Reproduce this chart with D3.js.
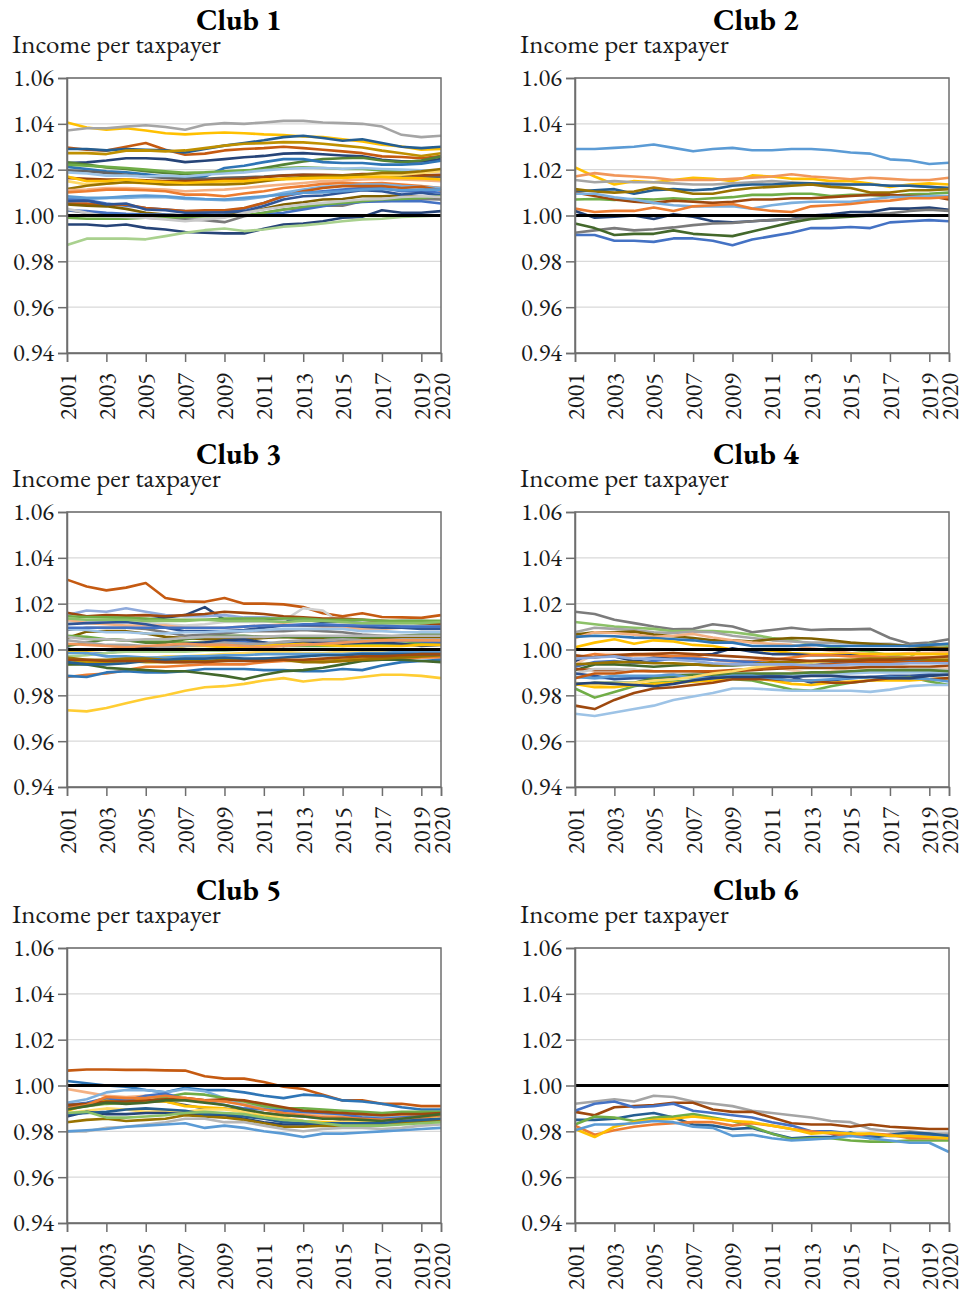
<!DOCTYPE html>
<html>
<head>
<meta charset="utf-8">
<script src="https://cdn.jsdelivr.net/npm/d3@7"></script>
<style>
  body { margin: 0; background: #fff; }
  text { font-family: "EB Garamond", Garamond, "Liberation Serif", "Times New Roman", serif; }
</style>
</head>
<body>
<div id="holder"></div>
<script>
// Data
const years = [2001, 2002, 2003, 2004, 2005, 2006, 2007, 2008, 2009, 2010,
               2011, 2012, 2013, 2014, 2015, 2016, 2017, 2018, 2019, 2020];
const xTicks = [2001, 2003, 2005, 2007, 2009, 2011, 2013, 2015, 2017, 2019, 2020];
const yTicks = [0.94, 0.96, 0.98, 1.00, 1.02, 1.04, 1.06];
const clubNames = ["Club 1", "Club 2", "Club 3", "Club 4", "Club 5", "Club 6"];
const subtitle = "Income per taxpayer";

const club1 = [
  [1.0406,1.0384,1.0374,1.0381,1.0371,1.0359,1.0354,1.0359,1.0362,1.0359,1.0354,1.0351,1.0345,1.0342,1.0333,1.0323,1.0309,1.0301,1.0287,1.029],
  [1.0371,1.0381,1.0381,1.0388,1.0394,1.0386,1.0374,1.0396,1.0403,1.04,1.0406,1.0413,1.0413,1.0406,1.0403,1.04,1.0388,1.0352,1.0342,1.0348],
  [1.0297,1.0287,1.0283,1.03,1.0316,1.0287,1.0265,1.027,1.0284,1.029,1.0294,1.03,1.0294,1.0287,1.028,1.0272,1.0258,1.0255,1.025,1.026],
  [1.029,1.029,1.0284,1.029,1.0287,1.0284,1.0275,1.029,1.0305,1.0316,1.0328,1.0342,1.0348,1.0338,1.0326,1.0333,1.0316,1.03,1.0294,1.03],
  [1.0272,1.0272,1.0268,1.0283,1.0284,1.028,1.0284,1.0294,1.0305,1.0313,1.0316,1.032,1.0319,1.0313,1.0305,1.0297,1.0283,1.0272,1.026,1.0272],
  [1.0229,1.0232,1.024,1.025,1.025,1.0246,1.0233,1.0239,1.0246,1.0254,1.026,1.027,1.0272,1.0267,1.0262,1.0258,1.0243,1.0236,1.0236,1.0246],
  [1.0232,1.0222,1.021,1.0203,1.0193,1.0186,1.0181,1.0186,1.0188,1.0193,1.0207,1.0222,1.0236,1.0246,1.025,1.0252,1.024,1.0233,1.024,1.0258],
  [1.0212,1.0203,1.0193,1.0188,1.018,1.017,1.0164,1.017,1.0207,1.0217,1.0233,1.0246,1.0246,1.0233,1.0229,1.0229,1.0222,1.0222,1.0226,1.0239],
  [1.0222,1.0217,1.0212,1.0207,1.02,1.0193,1.0186,1.0188,1.0193,1.0197,1.02,1.0207,1.021,1.0207,1.0203,1.0203,1.0197,1.0193,1.0188,1.02],
  [1.0197,1.0193,1.0186,1.0178,1.017,1.0164,1.016,1.016,1.0164,1.0167,1.017,1.0175,1.0178,1.0175,1.0174,1.0178,1.0175,1.0174,1.017,1.0168],
  [1.0188,1.0183,1.0174,1.0174,1.017,1.0174,1.017,1.0178,1.0183,1.0188,1.0197,1.0203,1.0207,1.0207,1.0204,1.0207,1.0203,1.02,1.0197,1.0193],
  [1.0164,1.016,1.0157,1.0157,1.0154,1.015,1.015,1.0152,1.0157,1.016,1.0167,1.0174,1.0178,1.0178,1.0175,1.0181,1.0181,1.0178,1.0175,1.0178],
  [1.015,1.0135,1.0139,1.0145,1.014,1.0135,1.0139,1.0142,1.0142,1.0146,1.0152,1.0157,1.016,1.0164,1.0168,1.0174,1.0178,1.0178,1.0186,1.0193],
  [1.0116,1.013,1.0139,1.0145,1.0142,1.0135,1.0135,1.0135,1.0135,1.0139,1.015,1.016,1.0168,1.017,1.0174,1.0178,1.0186,1.0186,1.0193,1.0203],
  [1.011,1.0113,1.012,1.012,1.0116,1.0113,1.0106,1.011,1.0113,1.012,1.0128,1.0135,1.0142,1.015,1.0152,1.0157,1.016,1.0157,1.0154,1.015],
  [1.0101,1.0106,1.0113,1.0113,1.011,1.0106,1.0091,1.0091,1.0084,1.0096,1.0106,1.012,1.0128,1.0138,1.0142,1.0139,1.0142,1.0135,1.0128,1.012],
  [1.0077,1.0072,1.0077,1.0077,1.0081,1.008,1.0072,1.007,1.0067,1.007,1.0081,1.0099,1.0113,1.0125,1.013,1.0135,1.0135,1.0128,1.0125,1.012],
  [1.007,1.0067,1.0052,1.0043,1.0033,1.0026,1.0019,1.0014,1.0019,1.0029,1.0055,1.0084,1.0099,1.0106,1.0113,1.012,1.012,1.0106,1.0106,1.0099],
  [1.0052,1.0052,1.0043,1.0048,1.0033,1.0026,1.0019,1.0023,1.0023,1.0033,1.0055,1.0084,1.0106,1.012,1.0128,1.0128,1.0128,1.012,1.0125,1.011],
  [1.0048,1.0043,1.004,1.0029,1.0012,1.0004,1.0,1.0,1.0004,1.0012,1.0029,1.0048,1.0058,1.007,1.0072,1.0084,1.0084,1.0087,1.0081,1.0072],
  [1.0023,1.0012,1.0004,0.9997,0.999,0.9986,0.9983,0.998,0.9971,0.9997,1.0012,1.0026,1.0033,1.0043,1.0043,1.0062,1.0062,1.0067,1.0072,1.007],
  [1.0023,1.0019,1.0012,1.0007,1.0004,1.0004,1.0,1.0,1.0004,1.0,1.0004,1.0012,1.0026,1.0041,1.0052,1.0059,1.0062,1.0062,1.0062,1.0052],
  [1.0062,1.0065,1.0048,1.0052,1.0026,1.0023,1.0012,1.0012,1.0014,1.0019,1.0041,1.007,1.0084,1.0087,1.0099,1.011,1.0106,1.0091,1.0099,1.0087],
  [0.999,0.9986,0.9986,0.9986,0.999,0.999,0.9994,0.9997,0.9997,1.0,1.0012,1.0026,1.0038,1.0048,1.0055,1.0062,1.007,1.0072,1.0077,1.0084],
  [0.9961,0.9961,0.9954,0.9961,0.9946,0.9939,0.9928,0.9925,0.9922,0.9922,0.9942,0.9961,0.9965,0.9975,0.999,0.9994,1.0023,1.0012,1.0012,1.0019],
  [0.9871,0.9899,0.9899,0.9899,0.9896,0.991,0.9925,0.9936,0.9943,0.9932,0.9939,0.9951,0.9957,0.9965,0.9975,0.9983,0.9986,0.9994,0.9997,1.0],
  [1.0084,1.0077,1.0077,1.0084,1.0087,1.0084,1.0077,1.0072,1.007,1.0077,1.0084,1.0091,1.0099,1.0101,1.0106,1.0113,1.0116,1.011,1.0113,1.0113],
  [1.0029,1.0012,0.9997,0.9994,0.999,0.9983,0.9975,0.9983,0.999,1.0012,1.0026,1.0038,1.0048,1.0055,1.0062,1.007,1.0072,1.0081,1.0084,1.0081],
  [1.017,1.015,1.015,1.0157,1.015,1.0146,1.0142,1.0146,1.015,1.015,1.0157,1.016,1.0162,1.0164,1.0164,1.0168,1.0168,1.0164,1.0162,1.0157]
];

const club2 = [
  [1.029,1.029,1.0295,1.03,1.031,1.0295,1.028,1.029,1.0295,1.0285,1.0285,1.029,1.029,1.0285,1.0275,1.027,1.0245,1.024,1.0225,1.023],
  [1.021,1.017,1.0135,1.015,1.0145,1.0155,1.0165,1.016,1.015,1.0175,1.017,1.016,1.016,1.015,1.015,1.014,1.0125,1.0135,1.014,1.0135],
  [1.017,1.0185,1.0175,1.017,1.0165,1.0155,1.0155,1.0155,1.016,1.0165,1.017,1.018,1.017,1.0165,1.0158,1.0165,1.016,1.0155,1.0155,1.0165],
  [1.0155,1.0145,1.015,1.0145,1.0145,1.014,1.0135,1.0135,1.014,1.0145,1.015,1.0145,1.014,1.014,1.0135,1.0135,1.013,1.013,1.0125,1.012],
  [1.0105,1.011,1.0115,1.0095,1.011,1.0115,1.011,1.0115,1.013,1.0135,1.0135,1.014,1.014,1.0135,1.0135,1.0135,1.013,1.013,1.0125,1.012],
  [1.0115,1.0105,1.01,1.0105,1.0122,1.011,1.0095,1.0095,1.011,1.012,1.0125,1.013,1.0135,1.0125,1.012,1.01,1.01,1.011,1.011,1.0115],
  [1.007,1.0072,1.0068,1.0072,1.007,1.0075,1.007,1.0075,1.008,1.009,1.009,1.0095,1.0095,1.0085,1.009,1.009,1.0085,1.0092,1.0095,1.01],
  [1.01,1.0085,1.007,1.006,1.0055,1.0065,1.006,1.0055,1.006,1.007,1.007,1.0075,1.0075,1.008,1.0085,1.009,1.009,1.0085,1.0085,1.007],
  [1.0095,1.0095,1.008,1.007,1.0055,1.0045,1.004,1.004,1.004,1.003,1.0045,1.0055,1.006,1.006,1.006,1.007,1.008,1.008,1.0085,1.0085],
  [1.003,1.0015,1.002,1.002,1.0035,1.002,1.004,1.0045,1.005,1.003,1.002,1.0015,1.004,1.0045,1.005,1.006,1.0065,1.0075,1.0075,1.008],
  [1.002,0.999,0.9995,1.0,0.9985,1.0005,0.9995,0.9975,0.997,0.9975,0.998,0.9985,1.0,1.0005,1.0015,1.0015,1.003,1.003,1.0035,1.0025],
  [0.9925,0.9935,0.9945,0.9935,0.994,0.9948,0.9958,0.9965,0.9968,0.9975,0.998,0.9985,0.999,0.9995,1.0,1.0005,1.001,1.002,1.0025,1.002],
  [0.9965,0.9945,0.9915,0.992,0.992,0.9935,0.992,0.9915,0.991,0.993,0.995,0.997,0.9985,0.999,0.9995,1.0,1.0,1.0,1.0,1.0],
  [0.9915,0.9915,0.989,0.989,0.9885,0.99,0.99,0.989,0.987,0.9895,0.991,0.9925,0.9945,0.9945,0.995,0.9945,0.997,0.9975,0.998,0.9975]
];

const club3 = [
  [1.0305,1.0275,1.0258,1.027,1.029,1.0225,1.021,1.0208,1.0225,1.02,1.02,1.0197,1.0185,1.0158,1.0145,1.0158,1.0142,1.014,1.0138,1.015],
  [1.012,1.012,1.0125,1.013,1.013,1.014,1.015,1.0185,1.013,1.0135,1.0135,1.013,1.013,1.012,1.012,1.0115,1.011,1.011,1.0105,1.01],
  [1.012,1.012,1.012,1.012,1.0115,1.011,1.0105,1.011,1.012,1.012,1.012,1.0125,1.018,1.017,1.011,1.011,1.011,1.011,1.0105,1.0105],
  [1.015,1.017,1.0165,1.018,1.0165,1.015,1.0145,1.0145,1.015,1.014,1.014,1.0135,1.0135,1.013,1.013,1.013,1.012,1.0125,1.0125,1.012],
  [1.016,1.0145,1.015,1.0148,1.015,1.0145,1.015,1.0155,1.0165,1.016,1.0155,1.0145,1.014,1.0135,1.0135,1.013,1.0125,1.012,1.0115,1.011],
  [1.0145,1.0142,1.014,1.0138,1.0135,1.013,1.013,1.013,1.0135,1.0135,1.0135,1.0135,1.0135,1.013,1.013,1.013,1.0125,1.0125,1.0125,1.0125],
  [1.013,1.0115,1.011,1.0105,1.0105,1.0105,1.0095,1.0095,1.0095,1.01,1.0105,1.011,1.0105,1.01,1.0095,1.009,1.009,1.0095,1.0095,1.0095],
  [1.011,1.0115,1.0118,1.012,1.011,1.0095,1.008,1.008,1.008,1.0085,1.0095,1.0105,1.0105,1.0105,1.0105,1.01,1.0095,1.0095,1.009,1.009],
  [1.0085,1.0095,1.0095,1.0095,1.009,1.0075,1.006,1.0065,1.007,1.008,1.008,1.008,1.0085,1.008,1.0075,1.0065,1.006,1.0055,1.0055,1.006],
  [1.005,1.0078,1.008,1.008,1.007,1.0055,1.005,1.0045,1.0045,1.0045,1.005,1.0055,1.005,1.0045,1.004,1.0045,1.005,1.005,1.0055,1.0055],
  [1.006,1.0055,1.0045,1.004,1.0035,1.0035,1.003,1.003,1.0025,1.002,1.002,1.0015,1.0015,1.0015,1.0015,1.002,1.002,1.0025,1.003,1.003],
  [1.0015,1.003,1.0045,1.004,1.003,1.003,1.0045,1.0055,1.006,1.006,1.0055,1.0055,1.0055,1.0055,1.005,1.0055,1.0055,1.006,1.0065,1.0065],
  [1.0005,0.998,0.9985,0.9995,1.0,1.001,1.0015,1.003,1.0035,1.0035,1.003,1.0025,1.003,1.003,1.003,1.003,1.0035,1.004,1.0035,1.003],
  [1.0,1.0,1.0,1.0005,1.001,1.0015,1.0025,1.003,1.004,1.0045,1.003,1.0015,1.0035,1.003,1.0025,1.003,1.003,1.0025,1.0015,1.002],
  [0.9995,0.9995,1.0,1.0,0.9995,1.0,1.0015,1.0015,1.001,1.0005,1.002,1.002,1.0025,1.002,1.0015,1.0015,1.0015,1.0015,1.002,1.002],
  [0.9935,0.9945,0.995,0.995,0.996,0.997,0.997,0.9975,0.998,0.9985,0.999,0.999,0.9985,0.9985,0.999,0.999,0.9995,0.9995,0.9995,1.0],
  [0.997,0.9975,0.9985,0.999,0.999,0.999,0.999,0.9995,0.9995,1.0,1.0,1.0,1.0,1.0,1.0,1.0,1.0,1.0,1.0,1.0],
  [0.9985,0.9985,0.997,0.997,0.9965,0.9965,0.997,0.997,0.9975,0.9975,0.998,0.998,0.998,0.998,0.998,0.9985,0.9985,0.999,0.999,0.999],
  [0.9955,0.9945,0.9945,0.995,0.9945,0.9945,0.9945,0.995,0.995,0.9955,0.9955,0.9955,0.995,0.995,0.9955,0.996,0.9965,0.997,0.997,0.997],
  [0.988,0.989,0.9895,0.991,0.9925,0.9925,0.993,0.9935,0.9935,0.9935,0.9945,0.995,0.995,0.9945,0.995,0.9955,0.996,0.996,0.9965,0.9965],
  [0.9885,0.988,0.99,0.9905,0.99,0.99,0.9905,0.9915,0.9915,0.9915,0.991,0.991,0.9905,0.9905,0.9915,0.991,0.993,0.9945,0.995,0.9955],
  [0.9935,0.9935,0.992,0.9915,0.991,0.9905,0.9905,0.9895,0.9885,0.987,0.989,0.9905,0.991,0.992,0.9935,0.995,0.9955,0.9955,0.995,0.9945],
  [0.9735,0.973,0.9745,0.9765,0.9785,0.98,0.982,0.9835,0.984,0.985,0.9865,0.9875,0.986,0.987,0.987,0.988,0.989,0.989,0.9885,0.9875],
  [1.004,1.003,1.002,1.002,1.0015,1.001,1.0015,1.002,1.003,1.0025,1.0025,1.0035,1.004,1.004,1.0045,1.004,1.004,1.0045,1.0045,1.0045],
  [1.009,1.0085,1.0075,1.0075,1.007,1.007,1.0075,1.0075,1.008,1.008,1.0085,1.009,1.009,1.009,1.009,1.008,1.008,1.0075,1.0075,1.0075],
  [0.9965,0.9955,0.9955,0.996,0.996,0.9955,0.995,0.995,0.9955,0.9955,0.996,0.9955,0.9945,0.9945,0.995,0.9955,0.996,0.9965,0.997,0.9975],
  [0.9945,0.9935,0.9935,0.994,0.995,0.9955,0.996,0.996,0.9965,0.996,0.996,0.9965,0.997,0.9975,0.9975,0.998,0.998,0.998,0.998,0.998],
  [1.0025,1.002,1.0015,1.001,1.0015,1.002,1.0025,1.002,1.002,1.0015,1.001,1.0015,1.002,1.0025,1.003,1.0035,1.004,1.004,1.004,1.004],
  [1.0095,1.0095,1.0095,1.0095,1.0095,1.0095,1.0095,1.0095,1.0095,1.01,1.0105,1.0105,1.011,1.011,1.0105,1.0105,1.0105,1.01,1.01,1.01],
  [1.0135,1.013,1.013,1.013,1.0125,1.0125,1.0125,1.013,1.0125,1.0125,1.0125,1.012,1.0125,1.0125,1.012,1.0115,1.0115,1.0115,1.0115,1.012],
  [1.0055,1.0045,1.0045,1.004,1.0045,1.0045,1.005,1.0055,1.0055,1.0055,1.0055,1.006,1.006,1.006,1.006,1.006,1.006,1.006,1.006,1.006],
  [0.9955,0.9955,0.995,0.995,0.995,0.9945,0.9945,0.9945,0.995,0.995,0.995,0.9955,0.9955,0.996,0.9965,0.997,0.997,0.9975,0.998,0.998]
];

const club4 = [
  [1.0165,1.0155,1.013,1.0115,1.01,1.0088,1.009,1.011,1.01,1.0075,1.0085,1.0095,1.0085,1.0088,1.0088,1.009,1.005,1.0025,1.003,1.0045],
  [1.012,1.011,1.01,1.0095,1.009,1.008,1.008,1.008,1.0075,1.0065,1.005,1.004,1.0025,1.001,1.0,0.999,0.9975,0.9965,1.0025,1.0015],
  [1.0075,1.0095,1.009,1.0085,1.0075,1.0072,1.0078,1.0075,1.006,1.005,1.004,1.0035,1.003,1.003,1.0028,1.0025,1.0025,1.0015,1.002,1.0025],
  [1.0065,1.0075,1.0075,1.0078,1.0065,1.0058,1.005,1.004,1.004,1.0035,1.0045,1.005,1.0048,1.004,1.003,1.0025,1.002,1.0015,1.001,1.0005],
  [1.005,1.0075,1.0072,1.0065,1.0055,1.006,1.0068,1.0052,1.004,1.003,1.0025,1.002,1.0005,0.9995,0.9985,0.998,0.998,0.9985,0.9985,0.999],
  [1.0055,1.006,1.0058,1.0052,1.005,1.0045,1.004,1.003,1.003,1.0015,1.0015,1.0015,1.002,1.0015,1.0015,1.0015,1.0015,1.0015,1.002,1.0025],
  [1.001,1.003,1.0045,1.0025,1.004,1.0035,1.002,1.0015,1.0,1.0,0.9995,0.9985,0.998,0.998,0.998,0.998,0.998,0.998,0.998,0.998],
  [0.995,0.9975,0.997,0.995,0.9965,0.996,0.9975,0.998,1.0005,0.999,0.998,0.998,0.9975,0.9975,0.9975,0.9965,0.9965,0.996,0.996,0.9955],
  [0.9935,0.998,0.998,0.9975,0.9985,0.9985,0.997,0.9955,0.9945,0.994,0.9925,0.991,0.9895,0.9905,0.992,0.992,0.991,0.9915,0.992,0.992],
  [0.9965,0.998,0.997,0.9975,0.9975,0.997,0.997,0.9955,0.995,0.995,0.9955,0.9965,0.9975,0.9975,0.997,0.997,0.9965,0.9965,0.9965,0.9965],
  [0.9925,0.9945,0.995,0.994,0.995,0.996,0.996,0.9955,0.995,0.9945,0.994,0.9935,0.993,0.994,0.9945,0.9945,0.995,0.995,0.9955,0.995],
  [0.991,0.9935,0.9935,0.993,0.9925,0.993,0.9935,0.993,0.993,0.9935,0.994,0.9945,0.9945,0.995,0.995,0.995,0.995,0.9945,0.9945,0.9945],
  [0.9915,0.991,0.991,0.991,0.9905,0.99,0.99,0.99,0.9905,0.991,0.9915,0.992,0.992,0.992,0.992,0.9925,0.9925,0.9925,0.9925,0.993],
  [0.9895,0.9915,0.9915,0.991,0.9905,0.99,0.9895,0.989,0.989,0.989,0.9895,0.9895,0.989,0.99,0.9905,0.9905,0.991,0.9915,0.9915,0.991],
  [0.988,0.9875,0.9875,0.9878,0.988,0.988,0.988,0.9885,0.9885,0.989,0.989,0.989,0.989,0.9895,0.9895,0.99,0.99,0.99,0.99,0.99],
  [0.9895,0.9885,0.987,0.9875,0.9875,0.988,0.988,0.988,0.9885,0.9885,0.9885,0.988,0.9855,0.9865,0.9875,0.988,0.9885,0.9885,0.989,0.989],
  [0.9845,0.9855,0.9855,0.9855,0.9875,0.9885,0.989,0.989,0.9895,0.9895,0.9895,0.9895,0.99,0.99,0.9905,0.991,0.991,0.991,0.991,0.9905],
  [0.983,0.979,0.9815,0.984,0.9855,0.986,0.9865,0.987,0.987,0.9865,0.9845,0.9825,0.982,0.984,0.9855,0.9865,0.9875,0.988,0.986,0.9845],
  [0.985,0.9835,0.9835,0.9845,0.985,0.9855,0.986,0.9865,0.9875,0.9875,0.9865,0.985,0.9845,0.9855,0.986,0.9865,0.9865,0.9865,0.987,0.9875],
  [0.9755,0.974,0.978,0.981,0.983,0.9835,0.9845,0.9855,0.987,0.987,0.987,0.9865,0.9865,0.9855,0.9855,0.9865,0.9875,0.9875,0.987,0.9875],
  [0.972,0.971,0.9725,0.974,0.9755,0.978,0.9795,0.981,0.983,0.983,0.9825,0.982,0.982,0.982,0.982,0.9815,0.9825,0.984,0.9845,0.9845],
  [0.988,0.9875,0.9885,0.9885,0.9885,0.989,0.9875,0.9875,0.9885,0.9885,0.9875,0.9865,0.9865,0.987,0.9875,0.988,0.988,0.9875,0.987,0.986],
  [0.9875,0.9895,0.9895,0.9905,0.9905,0.9905,0.9905,0.9905,0.991,0.9915,0.992,0.9925,0.993,0.9935,0.994,0.9945,0.9945,0.9945,0.9945,0.995],
  [0.9855,0.9845,0.985,0.9855,0.9865,0.987,0.988,0.9895,0.9905,0.992,0.993,0.994,0.9945,0.995,0.9955,0.996,0.996,0.996,0.996,0.9965],
  [0.985,0.9855,0.985,0.9845,0.984,0.985,0.9865,0.9875,0.988,0.988,0.988,0.988,0.9885,0.9885,0.988,0.988,0.9875,0.9875,0.9885,0.989],
  [0.9935,0.994,0.9945,0.9945,0.994,0.994,0.9935,0.993,0.9935,0.9935,0.9945,0.9945,0.995,0.9955,0.9955,0.996,0.996,0.996,0.9955,0.9955],
  [0.9975,0.9965,0.9975,0.998,0.998,0.9985,0.998,0.9975,0.997,0.9965,0.996,0.9955,0.995,0.995,0.995,0.9955,0.9955,0.996,0.9965,0.997],
  [0.996,0.9965,0.997,0.996,0.996,0.9955,0.995,0.994,0.9935,0.9935,0.9935,0.9935,0.993,0.993,0.9935,0.9935,0.9935,0.994,0.994,0.994]
];

const club5 = [
  [1.0065,1.007,1.007,1.0068,1.0068,1.0066,1.0065,1.004,1.003,1.003,1.0015,0.9995,0.9985,0.996,0.9935,0.9935,0.992,0.992,0.991,0.991],
  [1.002,1.001,1.0,0.9995,0.998,0.997,0.999,0.998,0.998,0.997,0.9955,0.9945,0.996,0.9955,0.9935,0.993,0.992,0.9905,0.9895,0.9895],
  [0.9985,0.997,0.9955,0.995,0.9955,0.995,0.9945,0.9935,0.993,0.992,0.9905,0.989,0.988,0.987,0.9865,0.986,0.9865,0.9875,0.987,0.987],
  [0.9925,0.994,0.997,0.998,0.998,0.997,0.9985,0.9975,0.9945,0.9915,0.99,0.9895,0.989,0.988,0.9875,0.987,0.986,0.986,0.9865,0.987],
  [0.99,0.991,0.992,0.9925,0.993,0.995,0.9965,0.996,0.9945,0.993,0.991,0.99,0.99,0.9895,0.989,0.9885,0.988,0.9885,0.9885,0.9885],
  [0.991,0.992,0.9935,0.9935,0.993,0.993,0.9915,0.99,0.99,0.989,0.988,0.987,0.9865,0.986,0.985,0.985,0.985,0.9845,0.9845,0.985],
  [0.989,0.9915,0.9935,0.994,0.9935,0.993,0.991,0.9905,0.99,0.9885,0.987,0.9855,0.9845,0.984,0.984,0.983,0.9845,0.9845,0.9845,0.985],
  [0.988,0.989,0.99,0.9895,0.9885,0.989,0.9885,0.9895,0.9895,0.9885,0.9875,0.986,0.9845,0.9835,0.984,0.9845,0.985,0.9855,0.986,0.986],
  [0.9865,0.9885,0.9875,0.9875,0.988,0.988,0.9875,0.987,0.987,0.9855,0.984,0.983,0.983,0.9825,0.9825,0.9825,0.9835,0.9835,0.984,0.9845],
  [0.984,0.985,0.9855,0.9845,0.985,0.9855,0.987,0.9865,0.986,0.985,0.9835,0.982,0.982,0.9825,0.982,0.9825,0.983,0.9835,0.984,0.985],
  [0.98,0.98,0.9815,0.982,0.983,0.984,0.9855,0.9855,0.984,0.984,0.9825,0.981,0.98,0.981,0.9815,0.9815,0.981,0.9815,0.9825,0.983],
  [0.98,0.9805,0.981,0.982,0.9825,0.983,0.9835,0.9815,0.9825,0.9815,0.98,0.979,0.9775,0.979,0.979,0.9795,0.98,0.9805,0.981,0.9815],
  [0.9915,0.9925,0.9945,0.9935,0.9955,0.9965,0.994,0.993,0.9915,0.99,0.9895,0.989,0.9885,0.988,0.9875,0.986,0.9855,0.986,0.9865,0.987],
  [0.9915,0.992,0.993,0.993,0.9935,0.994,0.9945,0.9935,0.994,0.9935,0.992,0.9905,0.989,0.9885,0.988,0.9875,0.987,0.9875,0.9875,0.988],
  [0.99,0.9915,0.995,0.9945,0.9945,0.9955,0.9945,0.9935,0.993,0.9915,0.9895,0.988,0.987,0.986,0.986,0.9855,0.985,0.9855,0.986,0.987],
  [0.9895,0.991,0.9925,0.992,0.9925,0.9935,0.9935,0.9925,0.9915,0.9895,0.988,0.987,0.9865,0.9855,0.9855,0.985,0.9845,0.9855,0.9865,0.9875],
  [0.9875,0.988,0.9885,0.9895,0.99,0.9895,0.989,0.9875,0.9875,0.9865,0.9855,0.984,0.9835,0.9835,0.9835,0.9835,0.9835,0.9845,0.985,0.9855],
  [0.988,0.9885,0.986,0.986,0.9865,0.987,0.988,0.9885,0.988,0.9875,0.986,0.985,0.9845,0.9835,0.9825,0.9825,0.9825,0.983,0.9835,0.984]
];

const club6 = [
  [0.992,0.993,0.994,0.993,0.9955,0.995,0.993,0.992,0.991,0.989,0.988,0.987,0.986,0.9845,0.984,0.981,0.98,0.98,0.979,0.979],
  [0.9885,0.987,0.9905,0.991,0.9915,0.9925,0.9925,0.9895,0.9885,0.9885,0.986,0.9835,0.983,0.983,0.982,0.983,0.982,0.9815,0.981,0.981],
  [0.989,0.992,0.993,0.9905,0.991,0.992,0.989,0.988,0.987,0.986,0.984,0.9825,0.98,0.98,0.979,0.978,0.978,0.978,0.9785,0.978],
  [0.985,0.985,0.9855,0.987,0.988,0.986,0.983,0.9825,0.981,0.9815,0.979,0.977,0.9775,0.9775,0.9795,0.977,0.9785,0.9795,0.979,0.978],
  [0.983,0.9865,0.986,0.9845,0.986,0.9865,0.9875,0.986,0.9845,0.982,0.979,0.9765,0.977,0.977,0.976,0.9755,0.9755,0.976,0.976,0.976],
  [0.9825,0.9785,0.9805,0.982,0.983,0.9835,0.984,0.984,0.9825,0.9835,0.9825,0.981,0.98,0.979,0.978,0.979,0.9785,0.977,0.977,0.977],
  [0.981,0.9775,0.982,0.984,0.985,0.9855,0.9865,0.9855,0.9845,0.984,0.9825,0.981,0.979,0.9795,0.979,0.979,0.978,0.978,0.9775,0.977],
  [0.9805,0.983,0.983,0.9835,0.9845,0.984,0.982,0.9815,0.978,0.9785,0.977,0.976,0.9765,0.977,0.978,0.977,0.976,0.975,0.975,0.971]
];

// Series colours (Excel palette)
const club1Colors = ["#FFC000","#A5A5A5","#C55A11","#255E91","#BF9000","#264478","#548235","#2E75B6","#70AD47","#636363",
  "#9DC3E6","#9E480E","#FFD966","#997300","#F4B183","#ED7D31","#7CAFDD","#4472C4","#C55A11","#7F6000",
  "#7B7B7B","#4472C4","#2F5597","#70AD47","#264478","#A9D18E","#5B9BD5","#C9C9C9","#FFC000"];
const club2Colors = ["#5B9BD5","#FFC000","#F1975A","#A5A5A5","#255E91","#997300","#70AD47","#9E480E","#7CAFDD","#ED7D31",
  "#264478","#7B7B7B","#43682B","#4472C4"];
const club3Colors = ["#C55A11","#264478","#D0D0D0","#8FAADC","#9E480E","#70AD47","#F4B183","#2F5597","#7B7B7B","#7F6000",
  "#70AD47","#548235","#4472C4","#264478","#FFC000","#FFD966","#A9D18E","#5B9BD5","#BF9000","#ED7D31",
  "#2E75B6","#43682B","#FFCD33","#A5A5A5","#9DC3E6","#997300","#255E91","#F1975A","#4472C4","#8CC168",
  "#B7B7B7","#9E480E"];
const club4Colors = ["#7B7B7B","#8CC168","#A5A5A5","#7F6000","#F4B183","#2E75B6","#FFC000","#264478","#F8CBAD","#ED7D31",
  "#4472C4","#43682B","#9E480E","#C9C9C9","#9DC3E6","#2F5597","#548235","#70AD47","#FFC000","#9E480E",
  "#9DC3E6","#5B9BD5","#C55A11","#FFD966","#264478","#997300","#9E480E","#8FAADC"];
const club5Colors = ["#C55A11","#2E75B6","#F4B183","#7CAFDD","#70AD47","#636363","#FFC000","#FFD966","#264478","#997300",
  "#B7B7B7","#5B9BD5","#4472C4","#9E480E","#ED7D31","#43682B","#255E91","#8CC168"];
const club6Colors = ["#A5A5A5","#9E480E","#4472C4","#255E91","#70AD47","#ED7D31","#FFC000","#5B9BD5"];

const clubData = [club1, club2, club3, club4, club5, club6];
const clubColors = [club1Colors, club2Colors, club3Colors, club4Colors, club5Colors, club6Colors];

// Layout
const w = 964;
const h = 1292;
const plotW = 374;
const plotH = 275;
const colX = [67, 575];
const rowY = [78, 512, 948];
const titleX = [239, 756];

const svg = d3.select("#holder")
    .append("svg")
    .attr("width", w)
    .attr("height", h)

clubNames.forEach((name, i) => {
    const col = i % 2;
    const x0 = colX[col];
    const y0 = rowY[Math.floor(i / 2)];

    const x = d3.scaleLinear().domain([2001, 2020]).range([x0, x0 + plotW]);
    const y = d3.scaleLinear().domain([0.94, 1.06]).range([y0 + plotH, y0]);

    const g = svg.append("g").attr("class", "panel");

    // Titles
    g.append("text")
        .attr("x", titleX[col])
        .attr("y", y0 - 48)
        .attr("text-anchor", "middle")
        .attr("font-size", 30)
        .attr("font-weight", "bold")
        .attr("fill", "#000")
        .text(name)

    g.append("text")
        .attr("x", x0 - 55)
        .attr("y", y0 - 25)
        .attr("font-size", 27)
        .attr("fill", "#1a1a1a")
        .text(subtitle)

    // Gridlines
    g.selectAll("line.grid")
        .data(yTicks)
        .join("line")
        .attr("class", "grid")
        .attr("x1", x0)
        .attr("x2", x0 + plotW)
        .attr("y1", d => y(d))
        .attr("y2", d => y(d))
        .attr("stroke", "#d9d9d9")
        .attr("stroke-width", 1.3)

    // Series lines
    const line = d3.line()
        .x((d, j) => x(years[j]))
        .y(d => y(d))

    g.selectAll("path.series")
        .data(clubData[i])
        .join("path")
        .attr("class", "series")
        .attr("d", line)
        .attr("fill", "none")
        .attr("stroke", (d, j) => clubColors[i][j])
        .attr("stroke-width", 2.6)
        .attr("stroke-linejoin", "round")

    // Reference line at 1.00
    g.append("line")
        .attr("x1", x0)
        .attr("x2", x0 + plotW)
        .attr("y1", y(1))
        .attr("y2", y(1))
        .attr("stroke", "#000")
        .attr("stroke-width", 3)

    // Frame
    g.append("rect")
        .attr("x", x0)
        .attr("y", y0)
        .attr("width", plotW)
        .attr("height", plotH)
        .attr("fill", "none")
        .attr("stroke", "#6e6e6e")
        .attr("stroke-width", 1.5)

    // Axes
    const yAxis = d3.axisLeft(y)
        .tickValues(yTicks)
        .tickFormat(d3.format(".2f"))
        .tickSize(9)
        .tickPadding(4)

    g.append("g")
        .attr("transform", `translate(${x0},0)`)
        .call(yAxis)
        .call(a => a.selectAll("path, line").attr("stroke", "#6e6e6e").attr("stroke-width", 1.5))
        .call(a => a.selectAll("text")
            .attr("font-size", 24.5)
            .attr("fill", "#1a1a1a")
            .attr("font-family", null))

    const xAxis = d3.axisBottom(x)
        .tickValues(xTicks)
        .tickFormat(d => d)
        .tickSize(9)

    g.append("g")
        .attr("transform", `translate(0,${y0 + plotH})`)
        .call(xAxis)
        .call(a => a.selectAll("path, line").attr("stroke", "#6e6e6e").attr("stroke-width", 1.5))
        .call(a => a.selectAll("text")
            .attr("transform", "rotate(-90)")
            .attr("text-anchor", "end")
            .attr("x", -20)
            .attr("y", 0)
            .attr("dy", "0.33em")
            .attr("font-size", 24.5)
            .attr("fill", "#1a1a1a")
            .attr("font-family", null))
})
</script>
</body>
</html>
